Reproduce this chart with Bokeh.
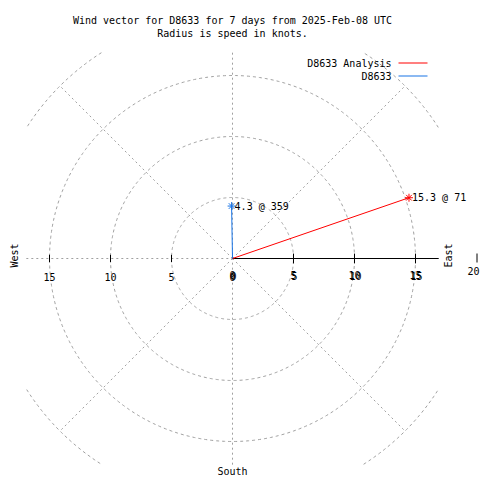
import numpy as np
from bokeh.plotting import figure
from bokeh.models import Range1d
from bokeh.core.properties import value
from bokeh.embed import file_html
from bokeh.resources import INLINE

# ---- data ----
title_lines = ["Wind vector for D8633 for 7 days from 2025-Feb-08 UTC",
               "Radius is speed in knots."]
series_names = ["D8633 Analysis", "D8633"]
series_speed = [15.3, 4.3]          # knots
series_dir = [71, 359]              # degrees from north, clockwise
series_colors = ["#ff0000", "#1874e6"]
ring_radii = [5, 10, 15, 20]
ray_angles = [45, 135, 225, 315]
tick_values = [5, 10, 15]
outer_tick = 20
direction_labels = ["West", "East", "South"]

# ---- layout helpers ----
W = H = 480
OFF = 0
PX = 12.2              # pixels per knot
CX, CY = 232, 258      # centre in figure pixels
LIM = 16.9             # half-size of plot square (knots)
FONT = value("DejaVu Sans Mono")
FS = "10px"
GRID = "#a0a0a0"

def sx(px):  # reference picture x -> data
    return (px - OFF - CX) / PX

def sy(py):
    return (CY - (py - OFF)) / PX

p = figure(width=W, height=H, output_backend="svg", toolbar_location=None,
           x_range=Range1d(-CX / PX, (W - CX) / PX),
           y_range=Range1d(-(H - CY) / PX, CY / PX),
           x_axis_location=None, y_axis_location=None, min_border=0)
p.grid.visible = False
p.outline_line_color = None
p.background_fill_color = "white"
p.border_fill_color = "white"

# ---- grid: rings ----
xs, ys = [], []
th = np.linspace(0, 2 * np.pi, 721)
for r in ring_radii:
    x = r * np.cos(th)
    y = r * np.sin(th)
    inside = (np.abs(x) <= LIM) & (np.abs(y) <= LIM)
    if inside.all():
        xs.append(list(x)); ys.append(list(y))
    else:
        seg_x, seg_y = [], []
        for xi, yi, ok in zip(x, y, inside):
            if ok:
                seg_x.append(xi); seg_y.append(yi)
            elif seg_x:
                xs.append(seg_x); ys.append(seg_y)
                seg_x, seg_y = [], []
        if seg_x:
            xs.append(seg_x); ys.append(seg_y)
p.multi_line(xs, ys, line_color=GRID, line_width=1, line_dash="3 3")

# rays and axis grid lines
gx, gy = [], []
rmax = max(ring_radii)
for a in ray_angles:
    t = np.radians(a)
    gx.append([0, rmax * np.cos(t)]); gy.append([0, rmax * np.sin(t)])
gx.append([-LIM, LIM]); gy.append([0, 0])
gx.append([0, 0]); gy.append([-LIM, LIM])
p.multi_line(gx, gy, line_color=GRID, line_width=1, line_dash="2 3")

# solid axis on right half
p.line([0, LIM], [0, 0], line_color="black", line_width=1)

# ticks
tk_x, tk_y = [], []
for v in tick_values:
    tk_x.append([-v, -v]); tk_y.append([-0.3, 0.3])
    tk_x.append([v, v]); tk_y.append([-0.4, 0.4])
tk_x.append([sx(476.5), sx(476.5)]); tk_y.append([sy(262), sy(253)])
p.multi_line(tk_x, tk_y, line_color="black", line_width=1)

# tick labels
left_vals = [-v for v in tick_values[::-1]] + [0]
p.text(x=left_vals, y=[sy(276)] * len(left_vals),
       text=[str(abs(v)) for v in left_vals],
       text_font=FONT, text_font_size=FS, text_align="center",
       text_baseline="middle", text_color="black")
right_vals = [0] + tick_values
for yy, dx in [(274, 0.0), (275.5, 1.0 / PX)]:
    p.text(x=[v + dx for v in right_vals], y=[sy(yy)] * len(right_vals),
           text=[str(v) for v in right_vals],
           text_font=FONT, text_font_size=FS, text_align="center",
           text_baseline="middle", text_color="black")
p.text(x=[sx(479)], y=[sy(270)], text=[str(outer_tick)],
       text_font=FONT, text_font_size=FS, text_align="right",
       text_baseline="middle", text_color="black")

# direction labels
p.text(x=[sx(14)], y=[sy(255)], text=[direction_labels[0]], angle=np.pi / 2,
       text_font=FONT, text_font_size=FS, text_align="center",
       text_baseline="middle", text_color="black")
p.text(x=[sx(448)], y=[sy(255)], text=[direction_labels[1]], angle=np.pi / 2,
       text_font=FONT, text_font_size=FS, text_align="center",
       text_baseline="middle", text_color="black")
p.text(x=[0], y=[sy(471)], text=[direction_labels[2]],
       text_font=FONT, text_font_size=FS, text_align="center",
       text_baseline="middle", text_color="black")

# title
p.text(x=[0, 0], y=[sy(20), sy(33)], text=title_lines,
       text_font=FONT, text_font_size=FS, text_align="center",
       text_baseline="middle", text_color="black")

# vectors
for name, spd, d, c in zip(series_names, series_speed, series_dir, series_colors):
    t = np.radians(d)
    ex, ey = spd * np.sin(t), spd * np.cos(t)
    p.line([0, ex], [0, ey], line_color=c, line_width=1)
    p.scatter([ex], [ey], marker="asterisk", size=8, line_color=c, line_width=1)
    p.text(x=[ex], y=[ey], text=[f"{spd} @ {d}"], x_offset=3,
           text_font=FONT, text_font_size=FS, text_align="left",
           text_baseline="middle", text_color="black")

# legend (manual, gnuplot style)
for i, (name, c) in enumerate(zip(series_names, series_colors)):
    yy = [62.5, 75.5][i]
    p.text(x=[sx(391)], y=[sy(yy)], text=[name],
           text_font=FONT, text_font_size=FS, text_align="right",
           text_baseline="middle", text_color="black")
    p.line([sx(398), sx(427)], [sy(yy), sy(yy)], line_color=c, line_width=1.2)

open("out.html", "w").write(file_html(p, INLINE))
